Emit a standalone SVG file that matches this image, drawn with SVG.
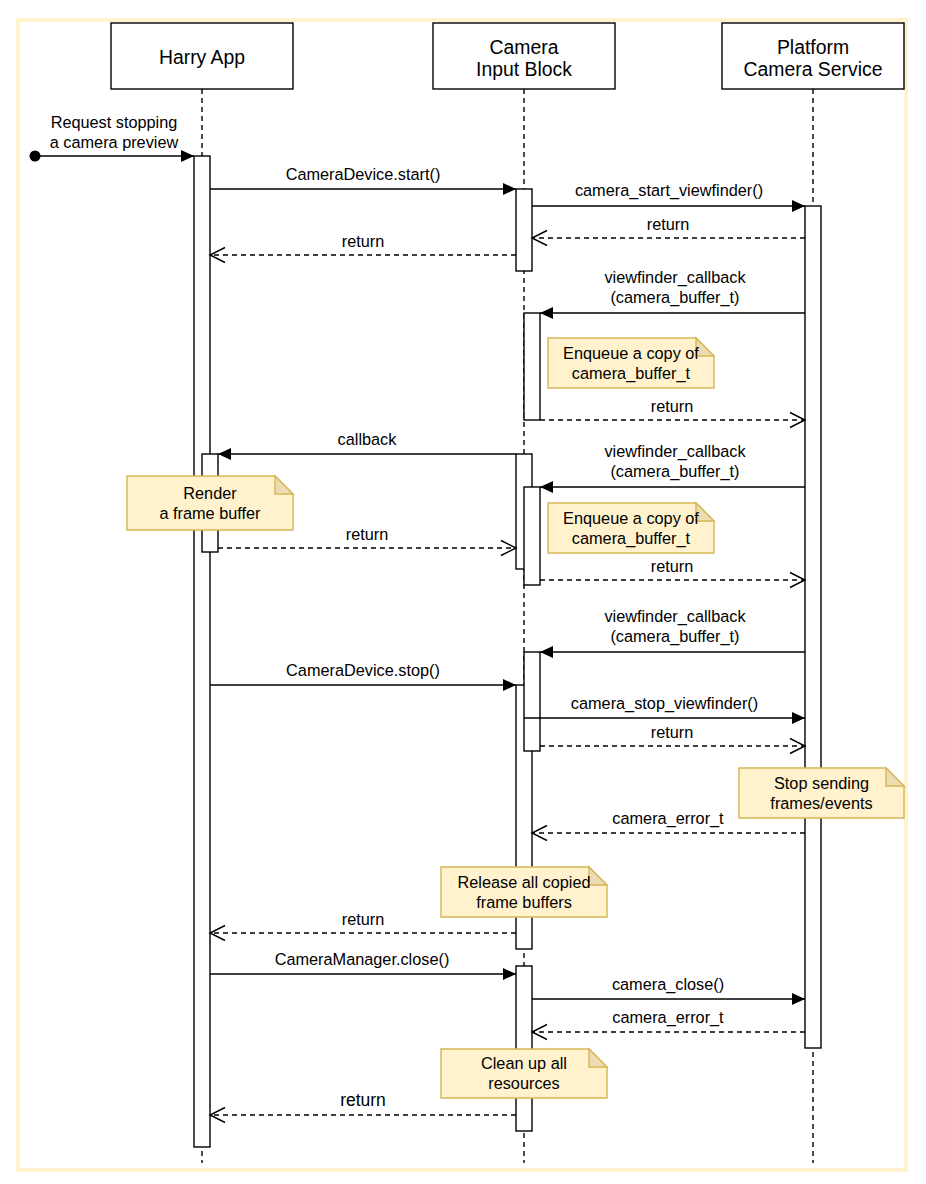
<svg xmlns="http://www.w3.org/2000/svg" width="926" height="1184" viewBox="0 0 926 1184">
<style>
text{font-family:"Liberation Sans",Arial,sans-serif;fill:#000;text-anchor:middle}
.t{font-size:19.4px}
.l{font-size:16.3px}
.box{fill:#fff;stroke:#000;stroke-width:1.4}
.life{stroke:#000;stroke-width:1.4;stroke-dasharray:5 4;fill:none}
.act{fill:#fff;stroke:#000;stroke-width:1.4}
.msg{stroke:#000;stroke-width:1.4;fill:none;marker-end:url(#fa)}
.ret{stroke:#000;stroke-width:1.4;fill:none;stroke-dasharray:5 4;marker-end:url(#oa)}
.note{fill:#fff2cc;stroke:#d6b656;stroke-width:1.4}
.fold{fill:#ebdcb4;stroke:#d6b656;stroke-width:1.4}
</style>
<defs>
<marker id="fa" markerUnits="userSpaceOnUse" markerWidth="14" markerHeight="14" refX="13" refY="6" orient="auto" overflow="visible">
<path d="M0,0 L13,6 L0,12 Z" fill="#000" stroke="none"/>
</marker>
<marker id="oa" markerUnits="userSpaceOnUse" markerWidth="16" markerHeight="16" refX="15" refY="7.5" orient="auto" overflow="visible">
<path d="M0,0 L15,7.5 L0,15" fill="none" stroke="#000" stroke-width="1.4" stroke-dasharray="none"/>
</marker>
</defs>
<rect x="0" y="0" width="926" height="1184" fill="#fff"/>
<rect id="frame" x="18" y="20" width="888" height="1150" fill="none" stroke="#fff2cc" stroke-width="4"/>

<g id="lifelines">
<line class="life" x1="202" y1="89" x2="202" y2="1163"/>
<line class="life" x1="524" y1="89" x2="524" y2="1163"/>
<line class="life" x1="813" y1="89" x2="813" y2="1163"/>
</g>

<g id="harry-app">
<rect class="box" x="111" y="23" width="182" height="66"/>
<text class="t" x="202" y="63.5">Harry App</text>
</g>
<g id="camera-input-block">
<rect class="box" x="433" y="23" width="182" height="66"/>
<text class="t" x="524" y="53.5">Camera</text>
<text class="t" x="524" y="75.5">Input Block</text>
</g>
<g id="platform-camera-service">
<rect class="box" x="722" y="23" width="182" height="66"/>
<text class="t" x="813" y="53.5">Platform</text>
<text class="t" x="813" y="75.5">Camera Service</text>
</g>

<g id="activations">
<rect class="act" x="194" y="156" width="16" height="991"/>
<rect class="act" x="202" y="454" width="16" height="98"/>
<rect class="act" x="516" y="189" width="16" height="82"/>
<rect class="act" x="524" y="313" width="16" height="107"/>
<rect class="act" x="516" y="454" width="16" height="115"/>
<rect class="act" x="524" y="487" width="16" height="98"/>
<rect class="act" x="516" y="685" width="16" height="264"/>
<rect class="act" x="524" y="652" width="16" height="99"/>
<rect class="act" x="516" y="966" width="16" height="165"/>
<rect class="act" x="805" y="206" width="16" height="842"/>
</g>

<g id="connectors">
<circle cx="35" cy="156" r="5.5" fill="#000"/>
<line class="msg" x1="35" y1="156" x2="194" y2="156"/>
<text class="l" x="114" y="128">Request stopping</text>
<text class="l" x="114" y="148">a camera preview</text>

<line class="msg" x1="210" y1="189" x2="516" y2="189"/>
<text class="l" x="363" y="180">CameraDevice.start()</text>

<line class="msg" x1="532" y1="206" x2="805" y2="206"/>
<text class="l" x="669" y="196">camera_start_viewfinder()</text>

<line class="ret" x1="805" y1="238" x2="532" y2="238"/>
<text class="l" x="668" y="229.5">return</text>

<line class="ret" x1="516" y1="255" x2="210" y2="255"/>
<text class="l" x="363" y="246.5">return</text>

<line class="msg" x1="805" y1="313" x2="540" y2="313"/>
<text class="l" x="675" y="283">viewfinder_callback</text>
<text class="l" x="675" y="302.5">(camera_buffer_t)</text>

<line class="ret" x1="540" y1="420" x2="805" y2="420"/>
<text class="l" x="672" y="411.5">return</text>

<line class="msg" x1="516" y1="454" x2="218" y2="454"/>
<text class="l" x="367" y="445">callback</text>

<line class="msg" x1="805" y1="487" x2="540" y2="487"/>
<text class="l" x="675" y="457">viewfinder_callback</text>
<text class="l" x="675" y="476.5">(camera_buffer_t)</text>

<line class="ret" x1="218" y1="548" x2="516" y2="548"/>
<text class="l" x="367" y="539.5">return</text>

<line class="ret" x1="540" y1="580" x2="805" y2="580"/>
<text class="l" x="672" y="571.5">return</text>

<line class="msg" x1="805" y1="652" x2="540" y2="652"/>
<text class="l" x="675" y="622">viewfinder_callback</text>
<text class="l" x="675" y="641.5">(camera_buffer_t)</text>

<line class="msg" x1="210" y1="685" x2="516" y2="685"/>
<text class="l" x="363" y="676">CameraDevice.stop()</text>

<line class="msg" x1="524" y1="718" x2="805" y2="718"/>
<text class="l" x="664.5" y="709">camera_stop_viewfinder()</text>

<line class="ret" x1="540" y1="746" x2="805" y2="746"/>
<text class="l" x="672" y="737.5">return</text>

<line class="ret" x1="805" y1="833" x2="532" y2="833"/>
<text class="l" x="668" y="824">camera_error_t</text>

<line class="ret" x1="516" y1="933" x2="210" y2="933"/>
<text class="l" x="363" y="924.5">return</text>

<line class="msg" x1="210" y1="974" x2="516" y2="974"/>
<text class="l" x="362" y="965">CameraManager.close()</text>

<line class="msg" x1="532" y1="999" x2="805" y2="999"/>
<text class="l" x="668" y="990">camera_close()</text>

<line class="ret" x1="805" y1="1032" x2="532" y2="1032"/>
<text class="l" x="668" y="1023">camera_error_t</text>

<line class="ret" x1="516" y1="1115" x2="210" y2="1115"/>
<text x="363" y="1106" style="font-size:17.5px">return</text>
</g>

<g id="note-enqueue-1">
<path class="note" d="M548,338 H696 L714,356 V388 H548 Z"/>
<path class="fold" d="M696,338 V356 H714 Z"/>
<text class="l" x="631" y="358.5">Enqueue a copy of</text>
<text class="l" x="631" y="378.5">camera_buffer_t</text>
</g>
<g id="note-render">
<path class="note" d="M127,476 H275 L293,494 V530 H127 Z"/>
<path class="fold" d="M275,476 V494 H293 Z"/>
<text class="l" x="210" y="499">Render</text>
<text class="l" x="210" y="519">a frame buffer</text>
</g>
<g id="note-enqueue-2">
<path class="note" d="M548,503 H696 L714,521 V553 H548 Z"/>
<path class="fold" d="M696,503 V521 H714 Z"/>
<text class="l" x="631" y="523.5">Enqueue a copy of</text>
<text class="l" x="631" y="543.5">camera_buffer_t</text>
</g>
<g id="note-stop-sending">
<path class="note" d="M739,768 H886 L904,786 V818 H739 Z"/>
<path class="fold" d="M886,768 V786 H904 Z"/>
<text class="l" x="821.5" y="788.5">Stop sending</text>
<text class="l" x="821.5" y="808.5">frames/events</text>
</g>
<g id="note-release">
<path class="note" d="M441,867 H589 L607,885 V917 H441 Z"/>
<path class="fold" d="M589,867 V885 H607 Z"/>
<text class="l" x="524" y="887.5">Release all copied</text>
<text class="l" x="524" y="907.5">frame buffers</text>
</g>
<g id="note-cleanup">
<path class="note" d="M441,1049 H589 L607,1067 V1098 H441 Z"/>
<path class="fold" d="M589,1049 V1067 H607 Z"/>
<text class="l" x="524" y="1069">Clean up all</text>
<text class="l" x="524" y="1089">resources</text>
</g>
</svg>
